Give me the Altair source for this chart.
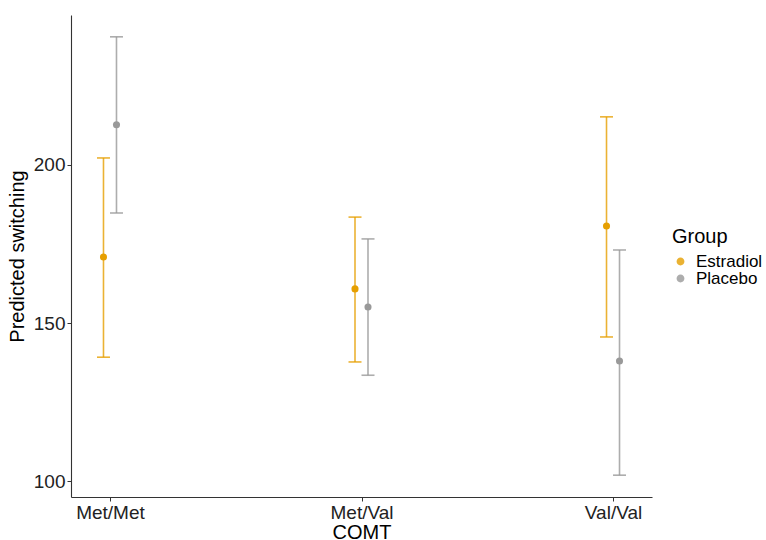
import altair as alt
import pandas as pd

comt = ["Met/Met", "Met/Met", "Met/Val", "Met/Val", "Val/Val", "Val/Val"]
group = ["Estradiol", "Placebo", "Estradiol", "Placebo", "Estradiol", "Placebo"]
estimate = [170.9, 212.7, 160.8, 155.1, 180.7, 138.0]
lower = [139.2, 184.8, 137.7, 133.5, 145.6, 101.9]
upper = [202.2, 240.5, 183.5, 176.6, 215.2, 173.1]

df = pd.DataFrame({"COMT": comt, "Group": group, "est": estimate, "lo": lower, "hi": upper})

FONT = "Liberation Sans"
colors = ["#E69F00", "#999999"]
groups = ["Estradiol", "Placebo"]

x = alt.X("COMT:N", title="COMT", sort=["Met/Met", "Met/Val", "Val/Val"],
          scale=alt.Scale(type="point", padding=0.155),
          axis=alt.Axis(labelAngle=0))
xo = alt.XOffset("Group:N", scale=alt.Scale(type="point", padding=0, domain=groups, range=[-6.5, 6.5]))
color = alt.Color("Group:N", scale=alt.Scale(domain=groups, range=colors),
                  legend=alt.Legend(title="Group"))
yscale = alt.Scale(domain=[95, 247.4], nice=False, zero=False)

base = alt.Chart(df)

rules = base.mark_rule(strokeWidth=1.6, opacity=0.8).encode(
    x=x, xOffset=xo,
    y=alt.Y("lo:Q", scale=yscale, title="Predicted switching",
            axis=alt.Axis(values=[100, 150, 200])),
    y2="hi:Q",
    color=color,
)
caps_lo = base.mark_tick(size=13, thickness=1.6, orient="horizontal", opacity=0.8).encode(
    x=x, xOffset=xo, y=alt.Y("lo:Q", scale=yscale), color=color)
caps_hi = base.mark_tick(size=13, thickness=1.6, orient="horizontal", opacity=0.8).encode(
    x=x, xOffset=xo, y=alt.Y("hi:Q", scale=yscale), color=color)
points = base.mark_circle(size=50, opacity=1).encode(
    x=x, xOffset=xo, y=alt.Y("est:Q", scale=yscale), color=color)

chart = alt.layer(rules, caps_lo, caps_hi, points).properties(
    width=581, height=482,
    autosize=alt.AutoSizeParams(type="none"),
    padding={"left": 71, "top": 15, "right": 114, "bottom": 43},
).configure_view(stroke=None).configure_axis(
    grid=False, domainColor="#333333", domainWidth=1.1, tickColor="#333333",
    tickSize=4, labelFont=FONT, labelFontSize=19, labelColor="#222222",
    titleFont=FONT, titleFontSize=20, titleColor="#000000", titleFontWeight="normal",
    labelPadding=2,
).configure_axisY(titlePadding=6).configure_axisX(titlePadding=0).configure_legend(
    orient="none", legendX=601, legendY=212, titleFont=FONT, titleFontSize=20,
    titleFontWeight="normal", titleColor="#000000", labelFont=FONT, labelFontSize=17,
    labelColor="#000000", symbolType="circle", symbolSize=40, rowPadding=-6,
    labelOffset=7, titlePadding=6,
)

chart.save("out.html", embed_options={"renderer": "svg", "actions": False})
